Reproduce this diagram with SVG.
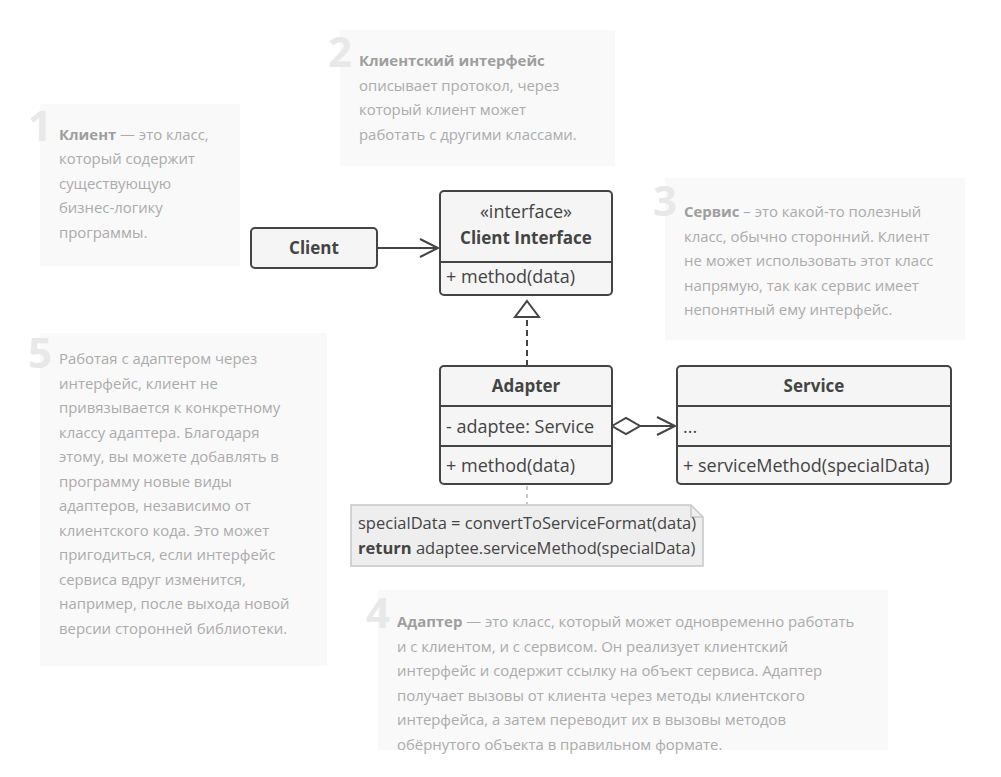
<svg xmlns="http://www.w3.org/2000/svg" width="1001" height="777" viewBox="0 0 1001 777">
<defs>
<style>
.panel{fill:#f9f9f9}
.num{font-family:"Open Sans","Liberation Sans",sans-serif;font-weight:bold;font-size:42px;fill:#e8e8e8}
.c{font-family:"Open Sans","Liberation Sans",sans-serif;font-size:14.9px;fill:#ababab}
.cb{font-weight:bold;fill:#9e9e9e}
.box{fill:#f5f5f5;stroke:#444;stroke-width:2}
.div{stroke:#444;stroke-width:2;fill:none}
.t{font-family:"Open Sans","Liberation Sans",sans-serif;font-size:18px;fill:#444}
.tb{font-family:"Open Sans","Liberation Sans",sans-serif;font-size:17px;fill:#444;font-weight:bold}
.ln{stroke:#444;stroke-width:2;fill:none}
.note{fill:#eeeeee;stroke:#c8c8c8;stroke-width:1.5}
.nt{font-family:"Open Sans","Liberation Sans",sans-serif;font-size:16.5px;fill:#444}
</style>
</defs>

<g id="comment1">
<rect class="panel" x="40" y="104" width="200" height="162"/>
<text class="num" x="28" y="141">1</text>
<text class="c" x="59" y="140"><tspan class="cb">Клиент</tspan> — это класс,</text>
<text class="c" x="59" y="164">который содержит</text>
<text class="c" x="59" y="189">существующую</text>
<text class="c" x="59" y="213">бизнес-логику</text>
<text class="c" x="59" y="238">программы.</text>
</g>

<g id="comment2">
<rect class="panel" x="340" y="30" width="275" height="136"/>
<text class="num" x="328" y="67">2</text>
<text class="c" x="359" y="66"><tspan class="cb">Клиентский интерфейс</tspan></text>
<text class="c" x="359" y="91">описывает протокол, через</text>
<text class="c" x="359" y="115">который клиент может</text>
<text class="c" x="359" y="140">работать с другими классами.</text>
</g>

<g id="comment3">
<rect class="panel" x="665" y="178" width="300" height="162"/>
<text class="num" x="653" y="216">3</text>
<text class="c" x="684" y="217"><tspan class="cb">Сервис</tspan> – это какой-то полезный</text>
<text class="c" x="684" y="242">класс, обычно сторонний. Клиент</text>
<text class="c" x="684" y="266">не может использовать этот класс</text>
<text class="c" x="684" y="291">напрямую, так как сервис имеет</text>
<text class="c" x="684" y="315">непонятный ему интерфейс.</text>
</g>

<g id="comment5">
<rect class="panel" x="40" y="333" width="287" height="333"/>
<text class="num" x="28" y="368">5</text>
<text class="c" x="59" y="364">Работая с адаптером через</text>
<text class="c" x="59" y="389">интерфейс, клиент не</text>
<text class="c" x="59" y="413">привязывается к конкретному</text>
<text class="c" x="59" y="438">классу адаптера. Благодаря</text>
<text class="c" x="59" y="462">этому, вы можете добавлять в</text>
<text class="c" x="59" y="487">программу новые виды</text>
<text class="c" x="59" y="511">адаптеров, независимо от</text>
<text class="c" x="59" y="536">клиентского кода. Это может</text>
<text class="c" x="59" y="560">пригодиться, если интерфейс</text>
<text class="c" x="59" y="585">сервиса вдруг изменится,</text>
<text class="c" x="59" y="609">например, после выхода новой</text>
<text class="c" x="59" y="634">версии сторонней библиотеки.</text>
</g>

<g id="comment4">
<rect class="panel" x="378" y="590" width="510" height="160"/>
<text class="num" x="366" y="628">4</text>
<text class="c" x="397" y="627"><tspan class="cb">Адаптер</tspan> — это класс, который может одновременно работать</text>
<text class="c" x="397" y="652">и с клиентом, и с сервисом. Он реализует клиентский</text>
<text class="c" x="397" y="676">интерфейс и содержит ссылку на объект сервиса. Адаптер</text>
<text class="c" x="397" y="701">получает вызовы от клиента через методы клиентского</text>
<text class="c" x="397" y="725">интерфейса, а затем переводит их в вызовы методов</text>
<text class="c" x="397" y="750">обёрнутого объекта в правильном формате.</text>
</g>

<g id="connectors">
<path class="ln" d="M377 248 H438 M420 239 L438 248 L420 257"/>
<path class="ln" d="M527 366 V317" stroke-dasharray="6 4"/>
<path class="ln" d="M527 301 L539 317 H515 Z" fill="#fff"/>
<path class="ln" d="M612 426 L626 418 L640 426 L626 434 Z" fill="#fff"/>
<path class="ln" d="M640 426 H675 M657 417 L675 426 L657 435"/>
<path d="M527 486 V504" stroke="#c8c8c8" stroke-width="2" stroke-dasharray="4 4"/>
</g>

<g id="client">
<rect class="box" x="251" y="228" width="126" height="40" rx="4"/>
<text class="tb" x="314" y="254" text-anchor="middle">Client</text>
</g>

<g id="client-interface">
<rect class="box" x="440" y="191" width="172" height="104" rx="4"/>
<line class="div" x1="440" y1="262" x2="612" y2="262"/>
<text class="t" x="526" y="218" text-anchor="middle">«interface»</text>
<text class="tb" x="526" y="244" text-anchor="middle">Client Interface</text>
<text class="t" x="446" y="283">+ method(data)</text>
</g>

<g id="adapter">
<rect class="box" x="440" y="366" width="172" height="118" rx="4"/>
<line class="div" x1="440" y1="406" x2="612" y2="406"/>
<line class="div" x1="440" y1="446" x2="612" y2="446"/>
<text class="tb" x="526" y="392" text-anchor="middle">Adapter</text>
<text class="t" x="446" y="433">- adaptee: Service</text>
<text class="t" x="446" y="472">+ method(data)</text>
</g>

<g id="service">
<rect class="box" x="677" y="366" width="274" height="118" rx="4"/>
<line class="div" x1="677" y1="406" x2="951" y2="406"/>
<line class="div" x1="677" y1="446" x2="951" y2="446"/>
<text class="tb" x="814" y="392" text-anchor="middle">Service</text>
<text class="t" x="683" y="433">...</text>
<text class="t" x="683" y="472">+ serviceMethod(specialData)</text>
</g>

<g id="note">
<path class="note" d="M351 505 H691 L703 517 V566 H351 Z"/>
<path d="M691 505 V517 H703" fill="none" stroke="#c8c8c8" stroke-width="1.5"/>
<text class="nt" x="358" y="529">specialData = convertToServiceFormat(data)</text>
<text class="nt" x="358" y="554"><tspan font-weight="bold">return</tspan> adaptee.serviceMethod(specialData)</text>
</g>
</svg>
